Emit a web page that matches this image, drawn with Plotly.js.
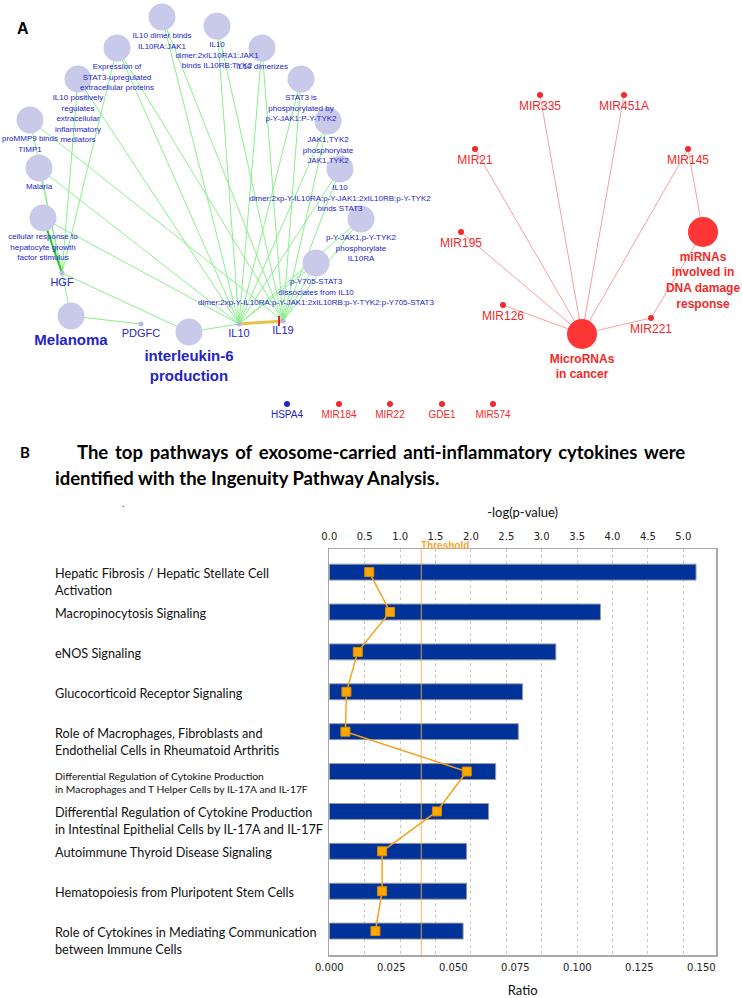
<!DOCTYPE html>
<html><head><meta charset="utf-8">
<script src="https://cdn.plot.ly/plotly-3.0.1.min.js"></script>
<style>html,body{margin:0;padding:0;background:#fff}</style>
</head><body><div id="chart" style="width:742px;height:998px"></div>
<script>
// ---------- Panel B data ----------
const pathwayLabels = [
  "Hepatic Fibrosis / Hepatic Stellate Cell<br>Activation",
  "Macropinocytosis Signaling",
  "eNOS Signaling",
  "Glucocorticoid Receptor Signaling",
  "Role of Macrophages, Fibroblasts and<br>Endothelial Cells in Rheumatoid Arthritis",
  "Differential Regulation of Cytokine Production<br>in Macrophages and T Helper Cells by IL-17A and IL-17F",
  "Differential Regulation of Cytokine Production<br>in Intestinal Epithelial Cells by IL-17A and IL-17F",
  "Autoimmune Thyroid Disease Signaling",
  "Hematopoiesis from Pluripotent Stem Cells",
  "Role of Cytokines in Mediating Communication<br>between Immune Cells"
];
const pathwayIds = ["P1","P2","P3","P4","P5","P6","P7","P8","P9","P10"];
const negLogP = [5.18, 3.83, 3.20, 2.73, 2.67, 2.35, 2.25, 1.94, 1.94, 1.89];
const ratio = [0.0161, 0.0245, 0.0115, 0.0069, 0.0065, 0.0554, 0.0434, 0.0213, 0.0213, 0.0186];
const threshold = 1.3;
const topTicks = [0, 0.5, 1.0, 1.5, 2.0, 2.5, 3.0, 3.5, 4.0, 4.5, 5.0];
const bottomTicks = [0, 0.025, 0.05, 0.075, 0.1, 0.125, 0.15];

// ---------- Panel A network data (layout coordinates of the network drawing) ----------
const procNames = [
  "IL10 dimer binds<br>IL10RA:JAK1",
  "IL10<br>dimer:2xIL10RA1:JAK1<br>binds IL10RB:TYK2",
  "IL10 dimerizes",
  "Expression of<br>STAT3-upregulated<br>extracellular proteins",
  "IL10 positively<br>regulates<br>extracellular<br>inflammatory<br>mediators",
  "STAT3 is<br>phosphorylated by<br>p-Y-JAK1:P-Y-TYK2",
  "JAK1,TYK2<br>phosphorylate<br>JAK1,TYK2",
  "IL10<br>dimer:2xp-Y-IL10RA:p-Y-JAK1:2xIL10RB:p-Y-TYK2<br>binds STAT3",
  "p-Y-JAK1,p-Y-TYK2<br>phosphorylate<br>IL10RA",
  "p-Y705-STAT3<br>dissociates from IL10<br>dimer:2xp-Y-IL10RA:p-Y-JAK1:2xIL10RB:p-Y-TYK2:p-Y705-STAT3",
  "proMMP9 binds<br>TIMP1",
  "Malaria",
  "cellular response to<br>hepatocyte growth<br>factor stimulus"
];
const procX = [162, 217, 262, 117, 78, 301, 328, 340, 361, 316, 30, 39, 43];
const procY = [17, 26, 48, 48, 79, 79, 121, 169, 219, 263, 120, 168, 218];

const termNames = ["Melanoma", "interleukin-6<br>production"];
const termX = [71, 189];
const termY = [316, 332];

const geneNames = ["HGF", "PDGFC", "IL10", "IL19"];
const geneX = [62, 141, 239, 283];
const geneY = [273, 324, 324, 321];

const mirNames = ["MIR335", "MIR451A", "MIR21", "MIR145", "MIR195", "MIR126", "MIR221"];
const mirX = [540, 624, 475, 688, 461, 503, 651];
const mirY = [95, 95, 149, 149, 232, 305, 318];

const mirPathNames = ["MicroRNAs<br>in cancer", "miRNAs<br>involved in<br>DNA damage<br>response"];
const mirPathX = [582, 703];
const mirPathY = [334, 232];

const loneNames = ["HSPA4", "MIR184", "MIR22", "GDE1", "MIR574"];
const loneX = [287, 339, 390, 442, 493];
const loneY = [404, 404, 404, 404, 404];
const loneIsGene = [true, false, false, false, false];

// edges (indices into the node lists)
const il10Targets = [0,1,2,3,4,5,6,7,8,9,11,12];
const il19Targets = [0,1,2,3,5,6,7,8,9,10];
const hgfTargets = [3,4,10,11];
const mirCancerTargets = [0,1,2,3,4,5,6];
const mirDnaTargets = [3,6];

// ---------- build ----------
function lineSeg(x0,y0,x1,y1,xs,ys){xs.push(x0,x1,null);ys.push(y0,y1,null);}
const gx=[], gy=[];
il10Targets.forEach(i=>lineSeg(geneX[2],geneY[2],procX[i],procY[i],gx,gy));
il19Targets.forEach(i=>lineSeg(geneX[3],geneY[3],procX[i],procY[i],gx,gy));
hgfTargets.forEach(i=>lineSeg(geneX[0],geneY[0],procX[i],procY[i],gx,gy));
lineSeg(geneX[0],geneY[0],termX[0],termY[0],gx,gy);
lineSeg(geneX[0],geneY[0],termX[1],termY[1],gx,gy);
lineSeg(geneX[1],geneY[1],termX[0],termY[0],gx,gy);
lineSeg(geneX[2],geneY[2],termX[1],termY[1],gx,gy);
const rx=[], ry=[];
mirCancerTargets.forEach(i=>lineSeg(mirPathX[0],mirPathY[0],mirX[i],mirY[i],rx,ry));
mirDnaTargets.forEach(i=>lineSeg(mirPathX[1],mirPathY[1],mirX[i],mirY[i],rx,ry));

const blue = "#2424c8", red = "#f22a2a", lav = "#c9c9ea", clear = "rgba(0,0,0,0)";
const AF = "Liberation Sans, Arial";
const AX = {xaxis:"x3", yaxis:"y3", hoverinfo:"skip", showlegend:false};
function nodes(x,y,size,color){return Object.assign({type:"scatter", mode:"markers", x:x, y:y, marker:{size:size, color:color}}, AX);}
function labels(x,y,text,offsetSize,font){return Object.assign({type:"scatter", mode:"markers+text", x:x, y:y, text:text,
  textposition:"bottom center", marker:{size:offsetSize, color:clear}, textfont:font}, AX);}
const traces = [
  Object.assign({type:"scatter", mode:"lines", x:gx, y:gy, line:{color:"#8aef8a", width:1}}, AX),
  Object.assign({type:"scatter", mode:"lines", x:[geneX[0],procX[12]], y:[geneY[0],procY[12]], line:{color:"#22cc22", width:2}}, AX),
  Object.assign({type:"scatter", mode:"lines", x:[geneX[2],geneX[3]], y:[geneY[2],geneY[3]], line:{color:"#e8c24a", width:3}}, AX),
  Object.assign({type:"scatter", mode:"markers", x:[geneX[3]-4], y:[geneY[3]], marker:{symbol:"line-ns-open", size:7, line:{color:"#e83020", width:2}}}, AX),
  Object.assign({type:"scatter", mode:"lines", x:rx, y:ry, line:{color:"#f6a0a0", width:1}}, AX),
  nodes(procX, procY, 27, lav),
  labels(procX, procY, procNames, 23, {family:AF, size:8, color:blue}),
  nodes(termX, termY, 27, lav),
  labels(termX, termY, termNames.map(t=>"<b>"+t+"</b>"), 27, {family:AF, size:15, color:blue}),
  nodes(geneX, geneY, 5, "#b8b8e4"),
  labels(geneX, geneY, geneNames, 6, {family:AF, size:11, color:blue}),
  nodes(mirX, mirY, 6, red),
  labels(mirX, mirY, mirNames, 8, {family:AF, size:12, color:red}),
  nodes(mirPathX, mirPathY, 30, "#ff3636"),
  labels(mirPathX, mirPathY, mirPathNames.map(t=>"<b>"+t+"</b>"), 30, {family:AF, size:12, color:red}),
  nodes(loneX, loneY, 6, loneIsGene.map(g=>g?blue:red)),
  labels(loneX, loneY, loneNames, 9, {family:AF, size:10, color:loneIsGene.map(g=>g?blue:red)}),
  // Panel B: bars on the -log(p) axis (top), ratio line on the overlaying bottom axis
  {type:"bar", orientation:"h", x:negLogP, y:pathwayIds, xaxis:"x", yaxis:"y", width:0.4,
   marker:{color:"#003399", line:{color:"#9a9a9a", width:1}}, hoverinfo:"x", showlegend:false},
  {type:"scatter", mode:"lines+markers", x:ratio, y:pathwayIds, xaxis:"x2", yaxis:"y",
   line:{color:"#f5a21b", width:1.5}, marker:{symbol:"square", size:9, color:"#ffa600", line:{color:"#d98c00", width:1}}, showlegend:false}
];

const W=742, H=998;
const py = v => 1 - v/H;
const annotations = pathwayLabels.map((t,i)=>{
  const small = i===5;
  return {xref:"paper", yref:"y", x:53/W, y:pathwayIds[i], xanchor:"left", yanchor:"top", yshift: small?4:9,
    text:t, showarrow:false, align:"left", font:{family:"Lato", size: small?10.3:12.7, color:"#111"}};
});
const gap = " \u2009";
annotations.push(
  {xref:"paper", yref:"paper", x:23/W, y:py(29), xanchor:"center", yanchor:"middle", text:"<b>A</b>", showarrow:false, font:{family:AF, size:16, color:"#000"}},
  {xref:"paper", yref:"paper", x:25/W, y:py(452), xanchor:"center", yanchor:"middle", text:"<b>B</b>", showarrow:false, font:{family:"Lato", size:15, color:"#000"}},
  {xref:"paper", yref:"paper", x:75/W, y:py(452), xanchor:"left", yanchor:"middle",
   text:"<b>" + ["The","top","pathways","of","exosome-carried","anti-inflammatory","cytokines","were"].join(gap) + "</b>", showarrow:false, font:{family:"Lato", size:18.5, color:"#000"}},
  {xref:"paper", yref:"paper", x:53/W, y:py(478), xanchor:"left", yanchor:"middle", text:"<b>identified with the Ingenuity Pathway Analysis.</b>", showarrow:false, font:{family:"Lato", size:18.5, color:"#000"}},
  {xref:"paper", yref:"paper", x:123/W, y:py(503), xanchor:"center", text:".", showarrow:false, font:{family:"Lato", size:10, color:"#333"}},
  {xref:"x", yref:"paper", x:threshold, y:py(545), xanchor:"left", yanchor:"middle", text:"<b>Threshold</b>", showarrow:false, xshift:-2, font:{family:AF, size:10, color:"#f5a638"}}
);

const layout = {
  width:W, height:H, margin:{l:0,r:0,t:0,b:0}, paper_bgcolor:"#fff", plot_bgcolor:"rgba(0,0,0,0)",
  showlegend:false,
  xaxis:{domain:[329.3/W, 716/W], anchor:"y", side:"top", range:[0, 5.462], tickvals:topTicks, ticktext:topTicks.map(v=>v.toFixed(1)),
    showgrid:true, gridcolor:"#c8c8c8", griddash:"dot", gridwidth:1, zeroline:false, showline:true, linecolor:"#a8a8a8", linewidth:1.5, ticks:"",
    ticklabelstandoff:4, tickfont:{family:"DejaVu Sans", size:10, color:"#222"},
    title:{text:"-log(p-value)", font:{family:"Lato", size:13, color:"#111"}, standoff:10}},
  xaxis2:{overlaying:"x", side:"bottom", anchor:"y", range:[0, 0.1559], tickvals:bottomTicks, ticktext:bottomTicks.map(v=>v.toFixed(3)),
    showgrid:false, zeroline:false, showline:true, linecolor:"#a8a8a8", linewidth:1.5, ticks:"",
    ticklabelstandoff:2, tickfont:{family:"DejaVu Sans", size:10, color:"#222"},
    title:{text:"Ratio", font:{family:"Lato", size:13, color:"#111"}, standoff:15}},
  yaxis:{domain:[py(955), py(549)], type:"category", categoryorder:"array", categoryarray:pathwayIds, range:[9.6, -0.58],
    showticklabels:false, showgrid:false, zeroline:false, showline:true, mirror:true, linecolor:"#a8a8a8", linewidth:1.5, ticks:""},
  xaxis3:{domain:[0,1], anchor:"y3", range:[0, W], visible:false, fixedrange:true},
  yaxis3:{domain:[py(420), 1], anchor:"x3", range:[420, 0], visible:false, fixedrange:true},
  shapes:[{type:"line", xref:"x", yref:"paper", x0:threshold, x1:threshold, y0:py(955), y1:py(549),
    line:{color:"rgba(244,168,80,0.6)", width:1.5}, layer:"above"}],
  annotations:annotations
};
Plotly.newPlot("chart", traces, layout, {displayModeBar:false, staticPlot:true});
</script></body></html>
